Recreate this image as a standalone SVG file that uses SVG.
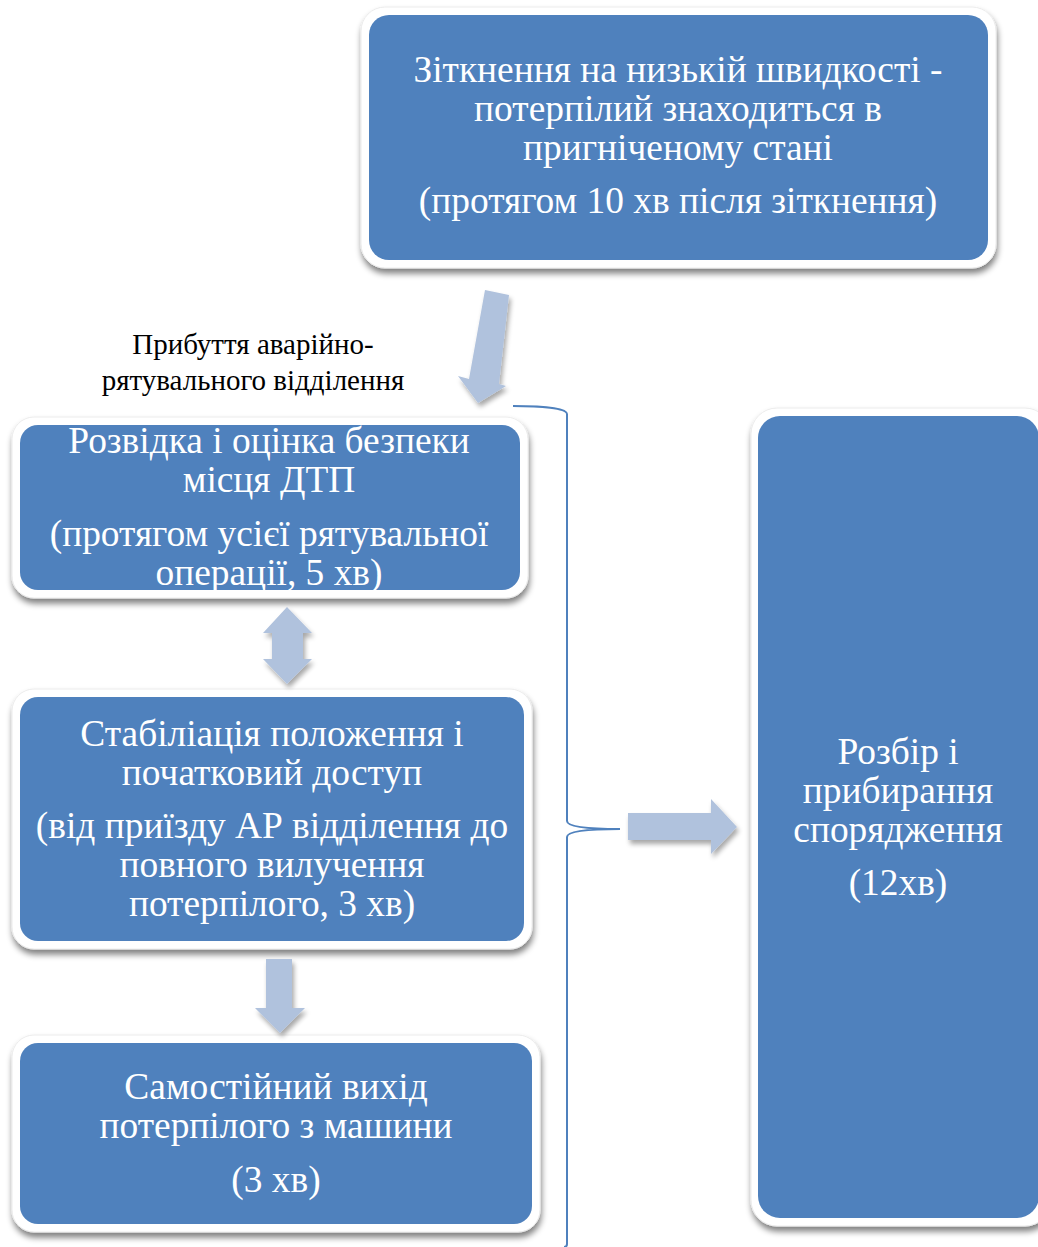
<svg xmlns="http://www.w3.org/2000/svg" width="1038" height="1247" viewBox="0 0 1038 1247">
<defs>
<filter id="sh" x="-10%" y="-10%" width="120%" height="130%">
<feGaussianBlur in="SourceAlpha" stdDeviation="3"/>
<feOffset dx="1" dy="5" result="b"/>
<feComponentTransfer><feFuncA type="linear" slope="0.5"/></feComponentTransfer>
<feMerge><feMergeNode/><feMergeNode in="SourceGraphic"/></feMerge>
</filter>
<filter id="ash" x="-30%" y="-30%" width="160%" height="160%">
<feGaussianBlur in="SourceAlpha" stdDeviation="2.5"/>
<feOffset dx="2" dy="4" result="b"/>
<feComponentTransfer><feFuncA type="linear" slope="0.35"/></feComponentTransfer>
<feMerge><feMergeNode/><feMergeNode in="SourceGraphic"/></feMerge>
</filter>
</defs>
<style>
.outer{fill:#ffffff;stroke:#ececec;stroke-width:1}
.inner{fill:#4f81bd}
.t{font-family:"Liberation Serif","Times New Roman",serif;font-size:37.4px;fill:#ffffff;text-anchor:middle}
.lbl{font-family:"Liberation Serif","Times New Roman",serif;font-size:29px;fill:#000000;text-anchor:middle}
.arr{fill:#b0c2dd}
.brace{fill:none;stroke:#4f81bd;stroke-width:2}
</style>
<rect width="1038" height="1247" fill="#ffffff"/>

<g id="node-collision">
<rect class="outer" x="361" y="7" width="635" height="261" rx="24" filter="url(#sh)"/>
<rect class="inner" x="369" y="15" width="619" height="245" rx="20"/>
<text class="t" x="678" y="82">Зіткнення на низькій швидкості -</text>
<text class="t" x="678" y="121">потерпілий знаходиться в</text>
<text class="t" x="678" y="160">пригніченому стані</text>
<text class="t" x="678" y="213">(протягом 10 хв після зіткнення)</text>
</g>

<g id="label-arrival">
<text class="lbl" x="253" y="354">Прибуття аварійно-</text>
<text class="lbl" x="253" y="390">рятувального відділення</text>
</g>

<g id="node-recon">
<rect class="outer" x="12" y="417" width="516" height="181" rx="22" filter="url(#sh)"/>
<rect class="inner" x="20" y="425" width="500" height="165" rx="18"/>
<text class="t" x="269" y="453">Розвідка і оцінка безпеки</text>
<text class="t" x="269" y="492">місця ДТП</text>
<text class="t" x="269" y="546">(протягом усієї рятувальної</text>
<text class="t" x="269" y="585">операції, 5 хв)</text>
</g>

<g id="node-stabil">
<rect class="outer" x="12" y="689" width="520" height="260" rx="22" filter="url(#sh)"/>
<rect class="inner" x="20" y="697" width="504" height="244" rx="18"/>
<text class="t" x="272" y="746">Стабіліація положення і</text>
<text class="t" x="272" y="785">початковий доступ</text>
<text class="t" x="272" y="838">(від приїзду АР відділення до</text>
<text class="t" x="272" y="877">повного вилучення</text>
<text class="t" x="272" y="916">потерпілого, 3 хв)</text>
</g>

<g id="node-exit">
<rect class="outer" x="12" y="1035" width="528" height="197" rx="22" filter="url(#sh)"/>
<rect class="inner" x="20" y="1043" width="512" height="181" rx="18"/>
<text class="t" x="276" y="1099">Самостійний вихід</text>
<text class="t" x="276" y="1138">потерпілого з машини</text>
<text class="t" x="276" y="1192">(3 хв)</text>
</g>

<g id="node-cleanup">
<rect class="outer" x="751" y="408" width="300" height="818" rx="26" filter="url(#sh)"/>
<rect class="inner" x="758" y="416" width="281" height="802" rx="22"/>
<text class="t" x="898" y="764">Розбір і</text>
<text class="t" x="898" y="803">прибирання</text>
<text class="t" x="898" y="842">спорядження</text>
<text class="t" x="898" y="895">(12хв)</text>
</g>

<g id="connectors">
<polygon class="arr" filter="url(#ash)" points="485,290 509,295 499,384 506,386 478,403 458,376 469,379"/>
<polygon class="arr" filter="url(#ash)" points="287,607 312,633 303,633 303,659 312,659 287,684 263,659 272,659 272,633 263,633"/>
<polygon class="arr" filter="url(#ash)" points="266,959 292,959 292,1008 305,1008 280,1033 255,1008 266,1008"/>
<polygon class="arr" filter="url(#ash)" points="628,813 711,813 711,799 737,827 711,854 711,840 628,840"/>
<path class="brace" d="M513,406 C540,406 567,408 567,414 L567,821 C567,828 600,829 620,829 C600,829 567,830 567,837 L567,1244 C567,1246 566,1247 564,1247"/>
</g>
</svg>
